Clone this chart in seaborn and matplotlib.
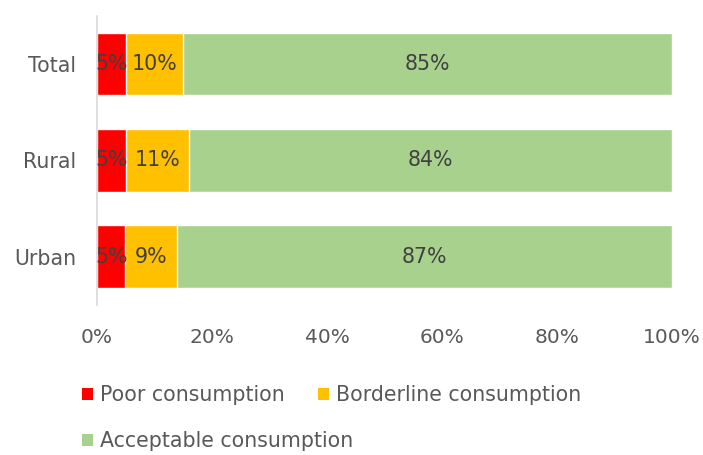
import matplotlib
matplotlib.use("Agg")
import matplotlib.pyplot as plt
from matplotlib.patches import Patch
from matplotlib.ticker import PercentFormatter
import numpy as np
import pandas as pd
import seaborn as sns

# Food consumption score groups by area
areas = ["Total", "Rural", "Urban"]
poor = [5, 5, 5]
borderline = [10, 11, 9]
acceptable = [85, 84, 87]

groups = ["Poor consumption", "Borderline consumption", "Acceptable consumption"]
colors = ["#FF0000", "#FFC000", "#A9D18E"]

sns.set_theme(style="white")
plt.rcParams["font.family"] = ["DejaVu Sans"]
FS = 14.8

raw = np.array([poor, borderline, acceptable], dtype=float)
share = raw / raw.sum(axis=0) * 100          # 100% stacked
ends = np.cumsum(share, axis=0)
starts = ends - share

fig = plt.figure(figsize=(7.03, 4.55), dpi=100)
ax = fig.add_axes([0.138, 0.330, 0.818, 0.635])

# draw the cumulative ends from the outermost segment inward
for i in reversed(range(3)):
    df = pd.DataFrame({"area": areas, "end": ends[i]})
    sns.barplot(data=df, x="end", y="area", orient="h", color=colors[i],
                width=0.65, saturation=1, ax=ax, order=areas)

for i in range(3):
    for j in range(3):
        ax.text((starts[i, j] + ends[i, j]) / 2, j, f"{raw[i, j]:.0f}%",
                ha="center", va="center", fontsize=FS, color="#404040")

ax.set_xlim(0, 100)
ax.set_ylim(2.5, -0.5)
ax.set_xticks(np.arange(0, 101, 20))
ax.xaxis.set_major_formatter(PercentFormatter(decimals=0))
ax.set_xlabel("")
ax.set_ylabel("")
ax.tick_params(axis="x", length=0, pad=17, labelsize=FS - 0.3, colors="#595959")
ax.tick_params(axis="y", length=0, pad=15, labelsize=FS, colors="#595959")
for side in ["top", "right", "bottom"]:
    ax.spines[side].set_visible(False)
ax.spines["left"].set_color("#D9D9D9")
ax.spines["left"].set_linewidth(1.2)

# legend entries laid out in two rows
anchors = [(82 / 703, 1 - 395 / 455), (318 / 703, 1 - 395 / 455),
           (82 / 703, 1 - 441 / 455)]
for name, col, xy in zip(groups, colors, anchors):
    fig.legend([Patch(facecolor=col, edgecolor="none")], [name],
               loc="center left", bbox_to_anchor=xy, frameon=False,
               fontsize=FS, labelcolor="#595959", handlelength=0.55,
               handleheight=0.55, handletextpad=0.35, borderpad=0,
               borderaxespad=0)

fig.savefig("out.png", dpi=100)
